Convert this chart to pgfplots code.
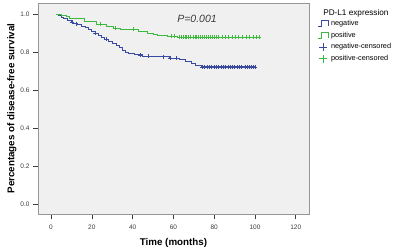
\documentclass[border=0pt]{standalone}
\usepackage{pgfplots}
\pgfplotsset{compat=1.18}
\usepackage{fontspec}
\setmainfont{Liberation Sans}
\definecolor{kmblue}{RGB}{58,74,160}
\definecolor{kmgreen}{RGB}{62,184,62}
\definecolor{plotbg}{RGB}{240,240,240}
\definecolor{framegray}{RGB}{150,150,150}
\definecolor{ticktext}{RGB}{60,60,60}
\begin{document}
\begin{tikzpicture}
\useasboundingbox (-38pt,-35pt) rectangle (360pt,214pt);
\begin{axis}[
  at={(0pt,0pt)}, anchor=south west,
  scale only axis, width=271pt, height=211pt,
  xmin=-6.4, xmax=126.5, ymin=-0.053, ymax=1.058,
  xtick={0,20,...,120}, ytick={0,0.2,0.4,0.6,0.8,1.0},
  yticklabel style={/pgf/number format/.cd,fixed,fixed zerofill,precision=1},
  /pgf/number format/assume math mode=true,
  tick label style={font=\fontsize{6.5}{7}\selectfont, text=ticktext},
  xticklabel style={yshift=-2.5pt},
  tick align=outside, major tick length=5pt,
  tick style={ticktext, line width=0.6pt},
  xtick pos=bottom, ytick pos=left,
  axis line style={framegray, line width=0.8pt},
  axis background/.style={fill=plotbg},
  xlabel={\bfseries Time (months)},
  ylabel={\bfseries Percentages of disease-free survival},
  label style={font=\fontsize{9.8}{11}\selectfont},
  xlabel style={yshift=-2pt},
  ylabel style={yshift=-3pt},
  clip=false,
  legend cell align=left,
  legend style={at={(rel axis cs:1.03,0.93)}, anchor=north west, draw=none, fill=none,
    font=\fontsize{7.3}{8}\selectfont, row sep=1pt, inner sep=0pt},
]
% negative
\addplot[kmblue, line width=0.7pt, const plot, mark=none,
  legend image code/.code={\draw[kmblue,line width=0.7pt] (0pt,-3pt)--(4pt,-3pt)--(4pt,3pt)--(11pt,3pt)--(11pt,-3pt);}]
coordinates {(2.5,1.0)(3.5,0.992)(5,0.983)(6,0.975)(8,0.966)(10,0.958)(11,0.95)(13,0.945)(15,0.937)(17,0.93)(18.5,0.92)(20,0.91)(21.5,0.90)(23,0.89)(24.5,0.875)(26,0.866)(28,0.855)(30,0.846)(32,0.835)(33.5,0.822)(35,0.81)(36.5,0.80)(38,0.792)(41,0.785)(45,0.778)(50,0.775)(58,0.768)(63,0.76)(66,0.75)(69,0.74)(71,0.73)(73.5,0.722)(100,0.722)};
\addlegendentry{negative}
% positive
\addplot[kmgreen, line width=0.7pt, const plot, mark=none,
  legend image code/.code={\draw[kmgreen,line width=0.7pt] (0pt,-3pt)--(4pt,-3pt)--(4pt,3pt)--(11pt,3pt)--(11pt,-3pt);}]
coordinates {(2.5,1.0)(5,0.993)(7.5,0.986)(9.2,0.977)(16.5,0.962)(22,0.946)(27,0.935)(30.4,0.925)(33.8,0.92)(43,0.907)(47,0.898)(50,0.893)(52,0.889)(57,0.882)(62,0.878)(103,0.878)};
\addlegendentry{positive}
% negative censored
\addplot[kmblue, only marks, mark=+, mark size=2pt, line width=0.5pt,
  legend image code/.code={\draw[kmblue,line width=0.6pt] (1.5pt,0pt)--(9.5pt,0pt) (5.5pt,-4pt)--(5.5pt,4pt);}]
coordinates {(10.3,0.958)(12.3,0.95)(21.6,0.90)(27.3,0.866)(43.6,0.785)(47.7,0.778)(55,0.775)(58.3,0.768)(61.6,0.768)
(74,0.722)(75,0.722)(76.5,0.722)(77.5,0.722)(78.5,0.722)(80,0.722)(81,0.722)(82,0.722)(83.5,0.722)(84.5,0.722)(85.5,0.722)(87,0.722)(88,0.722)(89,0.722)(90,0.722)(91.5,0.722)(92.5,0.722)(93.5,0.722)(95,0.722)(96,0.722)(97,0.722)(98,0.722)(99,0.722)(100,0.722)};
\addlegendentry{negative-censored}
% positive censored
\addplot[kmgreen, only marks, mark=+, mark size=2pt, line width=0.5pt,
  legend image code/.code={\draw[kmgreen,line width=0.6pt] (1.5pt,0pt)--(9.5pt,0pt) (5.5pt,-4pt)--(5.5pt,4pt);}]
coordinates {(24,0.946)(31.4,0.925)(40.3,0.92)(59,0.882)(60.5,0.882)
(63,0.878)(64,0.878)(65,0.878)(66,0.878)(66.5,0.878)(67.5,0.878)(68.5,0.878)(69.5,0.878)(70.5,0.878)(71,0.878)(72,0.878)(73,0.878)(74,0.878)(75,0.878)(76,0.878)(77,0.878)(78,0.878)(79,0.878)(80,0.878)(81,0.878)(82,0.878)(84,0.878)(85.5,0.878)(87,0.878)(89,0.878)(90.5,0.878)(92,0.878)(94,0.878)(95.5,0.878)(97,0.878)(99,0.878)(100.5,0.878)(102,0.878)};
\addlegendentry{positive-censored}
\node[font=\itshape\fontsize{10.5}{12}\selectfont, text=ticktext] at (axis cs:71.6,0.974) {P=0.001};
\node[anchor=west, font=\fontsize{8.2}{9}\selectfont, inner sep=0pt] at (rel axis cs:1.052,0.953) {PD-L1 expression};
\end{axis}
\end{tikzpicture}
\end{document}
